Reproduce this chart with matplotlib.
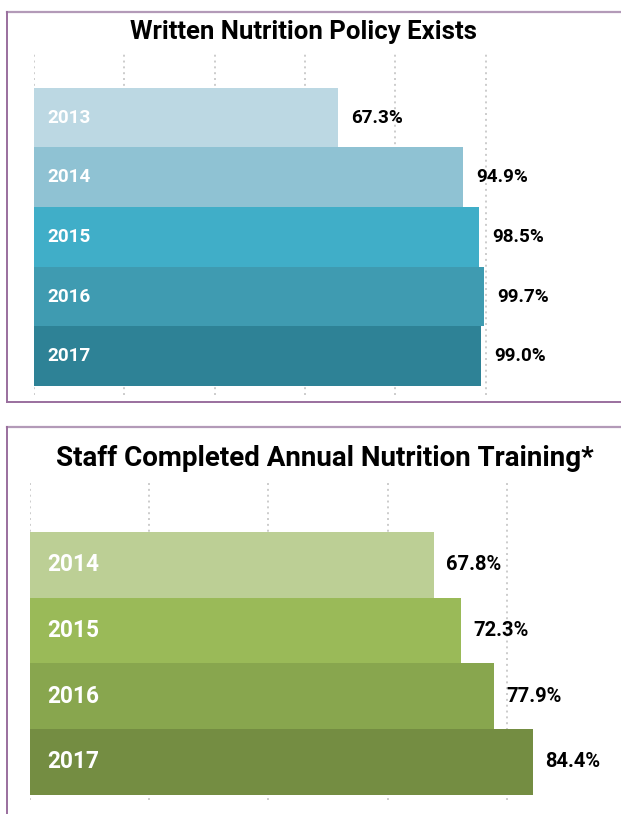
import matplotlib
matplotlib.use('Agg')
import matplotlib.pyplot as plt
from matplotlib.lines import Line2D

plt.rcParams['font.family'] = ['Roboto', 'DejaVu Sans']

# datos
anios_pol = ['2013', '2014', '2015', '2016', '2017']
valores_pol = [67.3, 94.9, 98.5, 99.7, 99.0]
colores_pol = ['#bcd8e3', '#8fc2d3', '#40aec8', '#3f9bb1', '#2e8296']

anios_cap = ['2014', '2015', '2016', '2017']
valores_cap = [67.8, 72.3, 77.9, 84.4]
colores_cap = ['#bccf95', '#9aba58', '#88a64e', '#748d42']

W, H = 621, 814
fig = plt.figure(figsize=(W / 100, H / 100), dpi=100)


def ejes(x0, y0, x1, y1):
    # caja en pixeles (origen arriba a la izquierda)
    return fig.add_axes([x0 / W, 1 - y1 / H, (x1 - x0) / W, (y1 - y0) / H])


def borde(y0, y1):
    c = '#9a6f9e'
    fig.add_artist(Line2D([7 / W, 1], [1 - y0 / H] * 2, color='#b39ab8', lw=1.6, transform=fig.transFigure))
    fig.add_artist(Line2D([7 / W, 7 / W], [1 - y0 / H, 1 - y1 / H], color=c, lw=1.4, transform=fig.transFigure))
    if y1 < H:
        fig.add_artist(Line2D([7 / W, 1], [1 - y1 / H] * 2, color=c, lw=1.4, transform=fig.transFigure))


def panel(ax, anios, valores, colores, xmax, grid, ylim, fs_anio, fs_val, dx, xa):
    pos = list(range(len(anios)))
    for g in grid:
        ax.axvline(g, color='#cccccc', lw=1.4, ls=(0, (1, 2)), zorder=0)
    ax.barh(pos, valores, height=1.0, color=colores, zorder=2)
    for p, a, v in zip(pos, anios, valores):
        ax.text(xa, p, a, color='white', fontweight='bold', fontsize=fs_anio,
                va='center', ha='left', zorder=3)
        ax.text(v + dx, p, '%.1f%%' % v, color='black', fontweight='bold', fontsize=fs_val,
                va='center', ha='left', zorder=3)
    ax.set_xlim(0, xmax)
    ax.set_ylim(*ylim)
    ax.axis('off')


borde(12, 402)
borde(427, H + 5)

ax1 = ejes(34, 52, 619, 395)
panel(ax1, anios_pol, valores_pol, colores_pol, 129.5, [0, 20, 40, 60, 80, 100],
      (4.65, -1.1), 13.6, 13.6, 2.9, 2.9)
fig.text(304 / W, 1 - 32 / H, 'Written Nutrition Policy Exists', ha='center', va='center',
         fontsize=18.5, fontweight='bold')

ax2 = ejes(30, 480, 619, 800)
panel(ax2, anios_cap, valores_cap, colores_cap, 98.8, [0, 20, 40, 60, 80],
      (3.58, -1.29), 16.3, 14.5, 2.0, 2.85)
fig.text(325 / W, 1 - 458 / H, 'Staff Completed Annual Nutrition Training*', ha='center',
         va='center', fontsize=20, fontweight='bold')

fig.savefig('out.png', dpi=100)
